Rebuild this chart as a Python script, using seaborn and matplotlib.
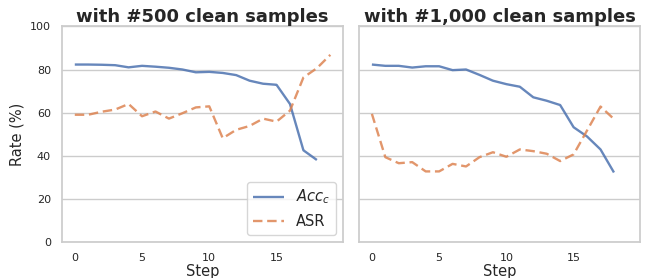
import pandas as pd
import seaborn as sns
import matplotlib.pyplot as plt

# values
acc_500 = [82.3, 82.3, 82.2, 82.0, 81.0, 81.7, 81.3, 80.8, 80.0, 78.7,
           78.9, 78.4, 77.4, 74.8, 73.4, 72.9, 64.0, 42.5, 38.0]
asr_500 = [59.0, 59.0, 60.4, 61.4, 64.0, 58.3, 60.5, 57.2, 59.7, 62.4,
           62.9, 48.1, 52.0, 53.8, 57.2, 55.8, 60.9, 76.3, 80.6, 86.8]
acc_1000 = [82.3, 81.7, 81.7, 80.9, 81.5, 81.5, 79.7, 80.0, 77.5, 74.8,
            73.2, 72.0, 67.1, 65.5, 63.5, 53.2, 48.9, 42.9, 32.2]
asr_1000 = [59.4, 39.3, 36.5, 37.0, 32.7, 32.7, 36.2, 35.0, 39.3, 41.6,
            39.5, 42.9, 42.1, 40.9, 37.5, 40.6, 51.7, 62.8, 57.0]
titles = ["with #500 clean samples", "with #1,000 clean samples"]
metrics = ["$Acc_c$", "ASR"]


def long_df(acc, asr):
    rows = [(i, v, metrics[0]) for i, v in enumerate(acc)]
    rows += [(i, v, metrics[1]) for i, v in enumerate(asr)]
    return pd.DataFrame(rows, columns=["Step", "Rate", "metric"])


sns.set_theme(style="whitegrid")
pal = sns.color_palette("deep")[:2]

fig, axes = plt.subplots(1, 2, figsize=(6.46, 2.78), dpi=100, sharex=True, sharey=True)
data = [long_df(acc_500, asr_500), long_df(acc_1000, asr_1000)]

for k, (ax, df) in enumerate(zip(axes, data)):
    sns.lineplot(data=df, x="Step", y="Rate", hue="metric", style="metric",
                 palette=pal, dashes=[(1, 0), (4, 2)], linewidth=1.7, alpha=0.85,
                 ax=ax, legend=(k == 0))
    ax.set_title(titles[k], fontsize=13, fontweight="bold", pad=3)
    ax.set_xlabel("Step", fontsize=10.5, labelpad=1)
    ax.grid(axis="x", visible=False)
    ax.tick_params(labelsize=8, pad=2)
    ax.set_ylim(0, 100)
    ax.set_xticks([0, 5, 10, 15])

axes[0].set_ylabel("Rate (%)", fontsize=10.5)
axes[1].set_ylabel("")
leg = axes[0].legend(loc="lower right", fontsize=10.5, handlelength=2.1)

fig.subplots_adjust(left=0.096, right=0.991, top=0.905, bottom=0.13, wspace=0.057)
fig.savefig("out.png")
